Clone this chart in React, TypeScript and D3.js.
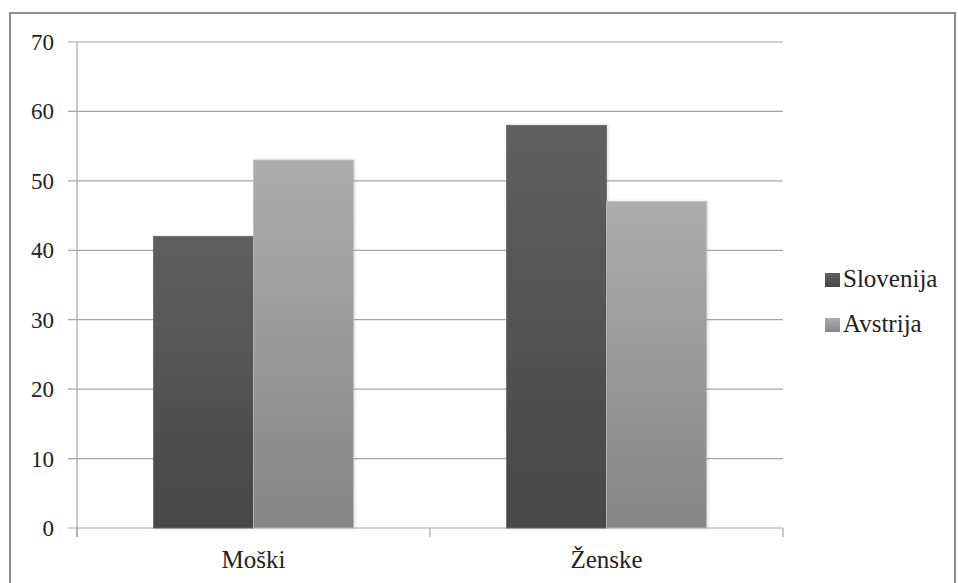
import React from "react";
import * as d3 from "d3";

const categories = ["Moški", "Ženske"];
const seriesNames = ["Slovenija", "Avstrija"];
const slovenija = [42, 58];
const avstrija = [53, 47];
const yTicks = [0, 10, 20, 30, 40, 50, 60, 70];

const W = 958;
const H = 583;
const plot = { left: 77, right: 783, top: 42, bottom: 528 };

const gradStops = [
  { top: "#5f5f5f", bottom: "#474747" },
  { top: "#adadad", bottom: "#858585" },
];

const font = "Liberation Serif, Tinos, Times New Roman, DejaVu Serif, serif";

export default function App() {
  const x0 = d3
    .scaleBand<string>()
    .domain(categories)
    .range([plot.left, plot.right])
    .paddingInner(0)
    .paddingOuter(0);
  const x1 = d3
    .scaleBand<string>()
    .domain(seriesNames)
    .range([0, x0.bandwidth()])
    .paddingInner(0)
    .paddingOuter(0.765);
  const y = d3.scaleLinear().domain([0, 70]).range([plot.bottom, plot.top]);
  const values = [slovenija, avstrija];
  const gridColor = "#a6a6a6";

  return (
    <svg
      width={W}
      height={H}
      style={{ position: "absolute", left: 0, top: 0 }}
      fontFamily={font}
    >
      <defs>
        {gradStops.map((g, i) => (
          <linearGradient key={i} id={`g${i}`} x1="0" y1="0" x2="0" y2="1">
            <stop offset="0%" stopColor={g.top} />
            <stop offset="100%" stopColor={g.bottom} />
          </linearGradient>
        ))}
        <filter id="sh" x="-10%" y="-10%" width="120%" height="120%">
          <feDropShadow dx="1" dy="0" stdDeviation="1.5" floodColor="#000" floodOpacity="0.15" />
        </filter>
      </defs>
      <rect x={0} y={0} width={W} height={H} fill="#fff" />
      <rect
        x={10}
        y={13}
        width={945}
        height={H}
        fill="none"
        stroke="#8c8c8c"
        strokeWidth={2}
      />
      {yTicks.map((t) => (
        <g key={t}>
          <line
            x1={plot.left - 9}
            x2={plot.right}
            y1={y(t)}
            y2={y(t)}
            stroke={gridColor}
            strokeWidth={1.2}
          />
          <text
            x={54}
            y={y(t)}
            dy="0.35em"
            textAnchor="end"
            fontSize={23}
            fill="#222"
          >
            {t}
          </text>
        </g>
      ))}
      <line
        x1={plot.left}
        x2={plot.left}
        y1={plot.top}
        y2={plot.bottom + 9}
        stroke={gridColor}
        strokeWidth={1.2}
      />
      {[plot.left, ...categories.map((c) => (x0(c) as number) + x0.bandwidth())].map(
        (xx, i) => (
          <line
            key={i}
            x1={xx}
            x2={xx}
            y1={plot.bottom}
            y2={plot.bottom + 9}
            stroke={gridColor}
            strokeWidth={1.2}
          />
        )
      )}
      {categories.map((c, ci) => (
        <g key={c}>
          {seriesNames.map((s, si) => {
            const v = values[si][ci];
            const bx = (x0(c) as number) + (x1(s) as number);
            return (
              <rect
                key={s}
                x={bx}
                y={y(v)}
                width={x1.bandwidth()}
                height={plot.bottom - y(v)}
                fill={`url(#g${si})`}
                stroke={si === 0 ? "#6a6a6a" : "#bdbdbd"}
                strokeWidth={0.8}
                filter="url(#sh)"
              />
            );
          })}
          <text
            x={(x0(c) as number) + x0.bandwidth() / 2}
            y={568}
            textAnchor="middle"
            fontSize={25}
            fill="#222"
          >
            {c}
          </text>
        </g>
      ))}
      {seriesNames.map((s, si) => (
        <g key={s} transform={`translate(825, ${273 + si * 45})`}>
          <rect x={0} y={0} width={15} height={14} fill={`url(#g${si})`} />
          <text x={18} y={14} fontSize={25} fill="#222">
            {s}
          </text>
        </g>
      ))}
    </svg>
  );
}
